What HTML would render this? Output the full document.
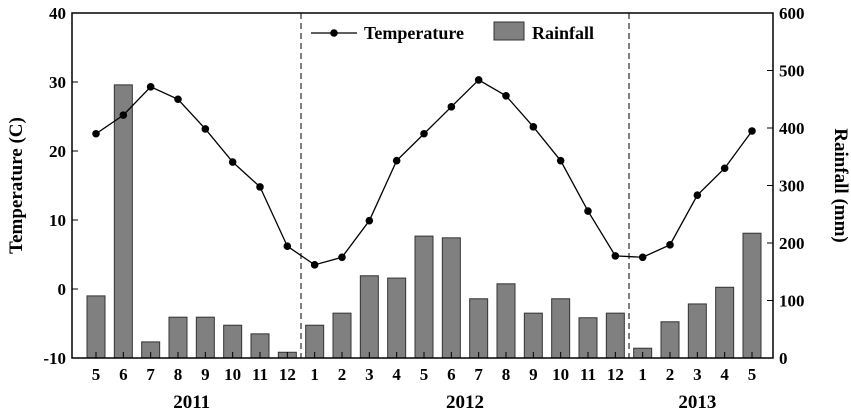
<!DOCTYPE html>
<html><head><meta charset="utf-8"><style>
body{margin:0;background:#fff;}
svg text{font-family:"Liberation Serif",serif;font-weight:bold;fill:#000;}
</style></head><body>
<svg id="chart" width="851" height="413" viewBox="0 0 851 413" xmlns="http://www.w3.org/2000/svg">
<g id="bars"></g>
<g id="line"></g>
<g id="axes"></g>
</svg>
<script>
const months = ["5","6","7","8","9","10","11","12","1","2","3","4","5","6","7","8","9","10","11","12","1","2","3","4","5"];
const temperature = [22.5,25.2,29.3,27.5,23.2,18.4,14.8,6.2,3.5,4.6,9.9,18.6,22.5,26.4,30.3,28,23.5,18.6,11.3,4.8,4.6,6.4,13.6,17.5,22.9];
const rainfall = [108,475,28,71,71,57,42,10,57,78,143,139,212,209,103,129,78,103,70,78,17,63,94,123,217];
const leftTicks = [-10,0,10,20,30,40];
const rightTicks = [0,100,200,300,400,500,600];
const years = [{label:"2011",from:0,to:7},{label:"2012",from:8,to:19},{label:"2013",from:20,to:24}];

const NS="http://www.w3.org/2000/svg";
const L=72,R=773,T=13,B=358;
const xs=i=>96+i*(752-96)/(months.length-1);
const yT=v=>B-(v+10)/50*(B-T);
const yR=v=>B-v/600*(B-T);
function mk(tag,attrs,parent,text){const e=document.createElementNS(NS,tag);for(const k in attrs)e.setAttribute(k,attrs[k]);if(text!==undefined)e.textContent=text;parent.appendChild(e);return e;}
const bars=document.getElementById('bars'),line=document.getElementById('line'),axes=document.getElementById('axes');

rainfall.forEach((v,i)=>{
 const r=mk('rect',{x:xs(i)-9,y:yR(v),width:18,height:B-yR(v),fill:'#808080',stroke:'#333','stroke-width':1},bars);
 
 
});
const pl=mk('polyline',{points:temperature.map((v,i)=>xs(i)+','+yT(v)).join(' '),fill:'none',stroke:'#000','stroke-width':1.3},line);


temperature.forEach((v,i)=>{
 const c=mk('circle',{cx:xs(i),cy:yT(v),r:3.8,fill:'#000'},line);
 
 
});
// dashed year separators
[7.5,19.5].forEach(p=>{const x=(xs(Math.floor(p))+xs(Math.ceil(p)))/2;
 const d=mk('line',{x1:x,x2:x,y1:T,y2:B,stroke:'#000','stroke-dasharray':'6,4','stroke-width':1},axes);
 
 });
// frame
const f=mk('rect',{x:L,y:T,width:R-L,height:B-T,fill:'none',stroke:'#000','stroke-width':1.5},axes);


leftTicks.forEach(v=>{const y=yT(v);
 mk('line',{x1:L,x2:L+6,y1:y,y2:y,stroke:'#000'},axes);
 const t=mk('text',{x:L-6,y:y+6,'text-anchor':'end','font-size':17},axes,String(v));
 
 });
rightTicks.forEach(v=>{const y=yR(v);
 mk('line',{x1:R-6,x2:R,y1:y,y2:y,stroke:'#000'},axes);
 const t=mk('text',{x:R+6,y:y+6,'font-size':17},axes,String(v));
 
 });
months.forEach((m,i)=>{const x=xs(i);
 mk('line',{x1:x,x2:x,y1:B,y2:B-6,stroke:'#000'},axes);
 const t=mk('text',{x:x,y:B+22,'text-anchor':'middle','font-size':17},axes,m);
 
 });
years.forEach(y=>{const x=(xs(y.from)+xs(y.to))/2;
 const t=mk('text',{x:x,y:B+50,'text-anchor':'middle','font-size':19},axes,y.label);
 
 });
const yl=mk('text',{x:0,y:0,'text-anchor':'middle','font-size':19,transform:'translate(22,'+(T+B)/2+') rotate(-90)'},axes,'Temperature (C)');


const yr=mk('text',{x:0,y:0,'text-anchor':'middle','font-size':19,transform:'translate(835,'+(T+B)/2+') rotate(90)'},axes,'Rainfall (mm)');


// legend
const lg=mk('g',{},axes);


mk('line',{x1:311,x2:357,y1:33,y2:33,stroke:'#000','stroke-width':1.3},lg);
mk('circle',{cx:334,cy:33,r:3.8,fill:'#000'},lg);
mk('text',{x:364,y:39,'font-size':18},lg,'Temperature');
mk('rect',{x:494,y:22,width:30,height:18,fill:'#808080',stroke:'#333'},lg);
mk('text',{x:532,y:39,'font-size':18},lg,'Rainfall');
</script>
</body></html>
